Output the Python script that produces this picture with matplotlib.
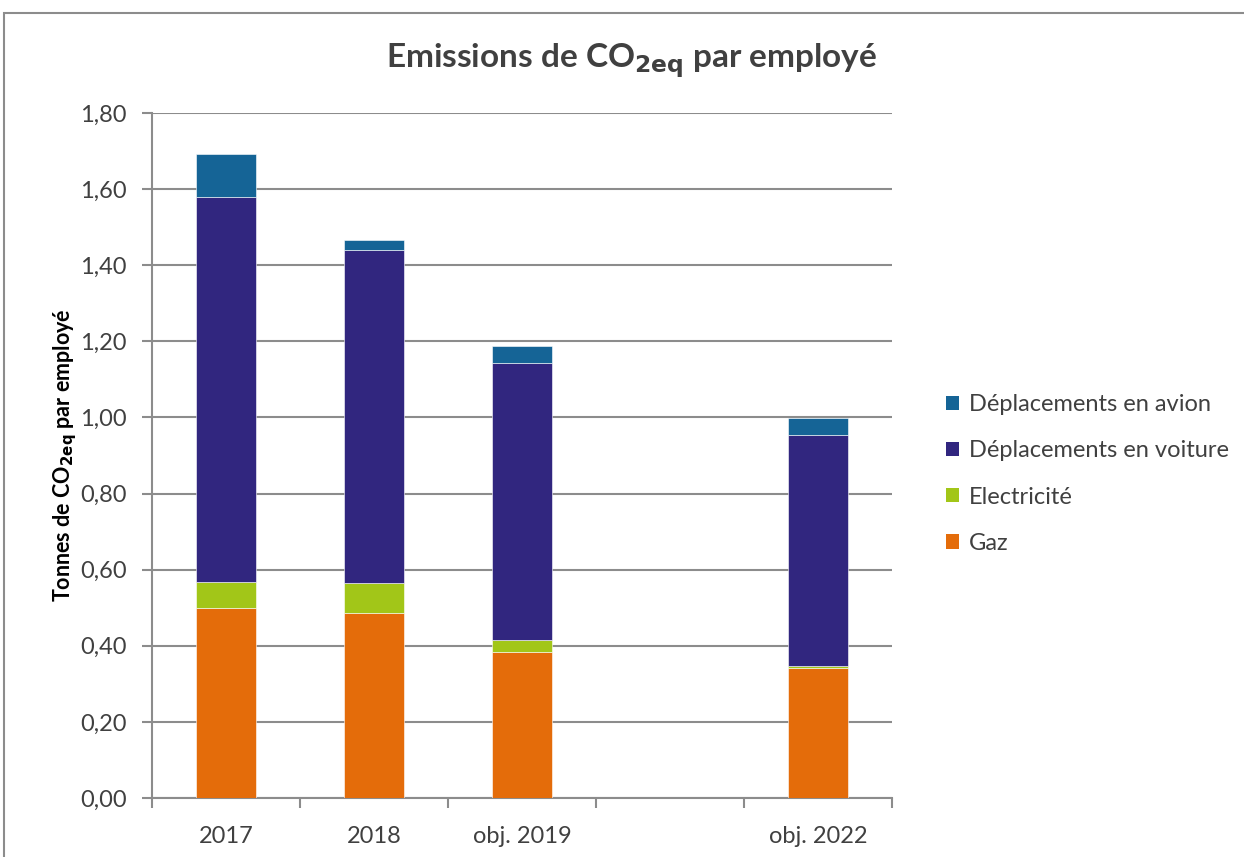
"""
Emissions de CO2eq par employé - stacked bars
"""
import numpy as np
from matplotlib import pyplot as plt
from matplotlib.patches import Patch, Rectangle

plt.rcParams['font.family'] = ['Lato', 'DejaVu Sans']

# Data (tonnes CO2eq per employee), empty slot kept between obj. 2019 and obj. 2022
categories = ['2017', '2018', 'obj. 2019', '', 'obj. 2022']
gaz = [0.50, 0.486, 0.384, 0.0, 0.342]
electricite = [0.068, 0.079, 0.031, 0.0, 0.005]
voiture = [1.010, 0.875, 0.728, 0.0, 0.607]
avion = [0.113, 0.026, 0.045, 0.0, 0.044]

series = ['Gaz', 'Electricité', 'Déplacements en voiture', 'Déplacements en avion']
colours = ['#e46c0a', '#a2c618', '#31267f', '#156496']

text_col = '#404040'
grid_col = '#8c8c8c'

fig = plt.figure(figsize=(12.44, 8.57), dpi=100)
ax = fig.add_axes([152/1244, 1-798/857, 740/1244, 685/857])

x = np.arange(len(categories))
bottom = np.zeros(len(categories))
for vals, col in zip([gaz, electricite, voiture, avion], colours):
    vals = np.array(vals)
    mask = vals > 0
    ax.bar(x[mask], vals[mask], width=0.41, bottom=bottom[mask], color=col,
           edgecolor='#ffffff', linewidth=0.4, zorder=3)
    bottom += vals

ax.set_xlim(-0.5, len(categories) - 0.5)
ax.set_ylim(0, 1.8)
yt = np.arange(0, 1.81, 0.2)
ax.set_yticks(yt)
ax.set_yticklabels([f'{v:.2f}'.replace('.', ',') for v in yt], fontsize=17, color=text_col)
ax.yaxis.grid(True, color=grid_col, linewidth=1.5, zorder=0)

ax.set_xticks(x)
ax.set_xticklabels(categories, fontsize=17, color=text_col)
ax.set_xticks(np.arange(-0.5, len(categories)), minor=True)
ax.tick_params(axis='x', which='major', length=0, pad=20)
ax.tick_params(axis='x', which='minor', length=7, width=1.5, color=grid_col)
ax.tick_params(axis='y', length=7, width=1.5, color=grid_col, pad=11)

for side in ['top', 'right']:
    ax.spines[side].set_visible(False)
for side in ['left', 'bottom']:
    ax.spines[side].set_color(grid_col)
    ax.spines[side].set_linewidth(1.5)

ax.set_ylabel(r'Tonnes de CO$_{\mathbf{2eq}}$ par employé', fontsize=15.5,
              fontweight='bold', color='#000000', labelpad=1)

fig.text(632/1244, 1-61/857, r'Emissions de CO$_{\mathbf{2eq}}$ par employé',
         ha='center', va='center', fontsize=24, fontweight='bold', color=text_col)

# Legend
handles = [Patch(facecolor=c) for c in colours[::-1]]
fig.legend(handles, series[::-1], loc='center left', bbox_to_anchor=(925/1244, 1-474/857),
           frameon=False, fontsize=17, labelcolor=text_col, handlelength=0.55,
           handleheight=0.55, handletextpad=0.4, labelspacing=1.07)

# Outer chart border
fig.patches.append(Rectangle((4/1244, -0.1), 1.2, 1-13/857 + 0.1, transform=fig.transFigure,
                             fill=False, edgecolor='#8c8c8c', linewidth=1.5))

plt.savefig('out.png', dpi=100)
